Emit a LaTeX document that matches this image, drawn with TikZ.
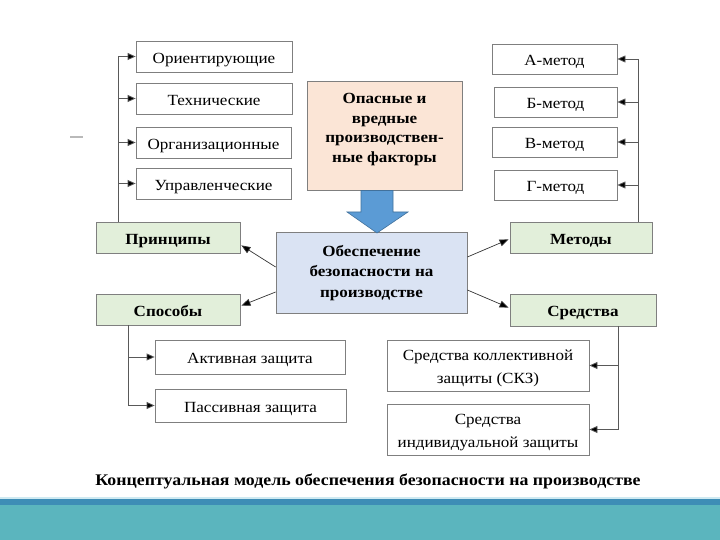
\documentclass[tikz,border=0pt]{standalone}
\usepackage{fontspec}
\setmainfont{Liberation Serif}[FakeStretch=1.1]
\usetikzlibrary{arrows.meta}
\definecolor{boxline}{HTML}{7F7F7F}
\definecolor{greenfill}{HTML}{E2EFDA}
\definecolor{peach}{HTML}{FBE5D6}
\definecolor{lightblue}{HTML}{DAE3F3}
\definecolor{arrowblue}{HTML}{5B9BD5}
\definecolor{arrowedge}{HTML}{41719C}
\definecolor{barlight}{HTML}{CFEAF2}
\definecolor{bardark}{HTML}{3E8DB6}
\definecolor{barteal}{HTML}{5BB5BE}
\tikzset{
  box/.style={draw=boxline, line width=0.8pt, fill=white, inner sep=0pt, align=center,
    font=\fontsize{15.5}{23}\selectfont},
  sbox/.style={box, text height=13.5pt, text depth=0pt},
  gbox/.style={box, fill=greenfill, font=\fontsize{15.5}{21}\selectfont\bfseries,
    text height=13pt, text depth=0pt},
  tree/.style={draw=boxline!70!black, line width=0.8pt},
  arr/.style={tree, -{Triangle[length=8pt,width=7pt,fill=black]}},
  darr/.style={draw=black!80, line width=0.7pt, -{Triangle[length=9pt,width=7pt,fill=black]}}
}
\begin{document}
\begin{tikzpicture}[x=1pt,y=-1pt]
\useasboundingbox (0,0) rectangle (720,540);
% bottom bar
\fill[barlight] (0,496.5) rectangle (720,499);
\fill[bardark] (0,499) rectangle (720,504.5);
\fill[barteal] (0,504.5) rectangle (720,540);
% small dash
\draw[gray!55, line width=1.3pt] (70,137) -- (83,137);

% left column
\node[sbox, minimum width=156pt, minimum height=31pt] (o1) at (214,56.5) {Ориентирующие};
\node[sbox, minimum width=156pt, minimum height=31pt] (o2) at (214,98.5) {Технические};
\node[sbox, minimum width=155pt, minimum height=31pt] (o3) at (213.5,142.5) {Организационные};
\node[sbox, minimum width=155pt, minimum height=31pt] (o4) at (213.5,183.5) {Управленческие};
\node[gbox, minimum width=144pt, minimum height=31pt] (pr) at (168,237.5) {Принципы};
\node[gbox, minimum width=144pt, minimum height=31pt] (sp) at (168,309.5) {Способы};

% centre
\node[box, fill=peach, minimum width=155pt, minimum height=109pt,
  font=\fontsize{15.5}{19.7}\selectfont\bfseries, text depth=15pt] (fac) at (384.5,135.5)
  {Опасные и\\вредные\\производствен-\\ные факторы};
\node[box, fill=lightblue, minimum width=191pt, minimum height=81pt,
  font=\fontsize{15.5}{20.5}\selectfont\bfseries] (main) at (371.5,273)
  {Обеспечение\\безопасности на\\производстве};

% right column
\node[sbox, minimum width=125pt, minimum height=30pt] (m1) at (554.5,59) {А-метод};
\node[sbox, minimum width=123pt, minimum height=30pt] (m2) at (555.5,102) {Б-метод};
\node[sbox, minimum width=125pt, minimum height=30pt] (m3) at (554.5,142) {В-метод};
\node[sbox, minimum width=123pt, minimum height=30pt] (m4) at (555.5,185) {Г-метод};
\node[gbox, minimum width=142pt, minimum height=31pt] (met) at (581,237.5) {Методы};
\node[gbox, minimum width=146pt, minimum height=32pt] (sr) at (583,310) {Средства};

% bottom
\node[sbox, minimum width=190pt, minimum height=34pt] (a1) at (250,357) {Активная защита};
\node[sbox, minimum width=191pt, minimum height=33pt] (a2) at (250.5,405.5) {Пассивная защита};
\node[box, minimum width=202pt, minimum height=51pt, text height=38pt, text depth=3pt] (s1) at (488,365.5) {Средства коллективной\\защиты (СКЗ)};
\node[box, minimum width=202pt, minimum height=51pt, text height=38pt, text depth=3pt] (s2) at (488,429.5) {Средства\\индивидуальной защиты};

% caption
\node[font=\fontsize{16.2}{19}\selectfont\bfseries, inner sep=0pt] (cap) at (368,481)
  {Концептуальная модель обеспечения безопасности на производстве};

% tree coordinates
\coordinate (xl) at (118,0);
\coordinate (xr) at (638,0);
\coordinate (xbl) at (128,0);
\coordinate (xbr) at (618,0);

% left tree
\draw[arr] (pr.north -| xl) |- (o1.west);
\draw[arr] (xl |- o2.west) -- (o2.west);
\draw[arr] (xl |- o3.west) -- (o3.west);
\draw[arr] (xl |- o4.west) -- (o4.west);
% right tree
\draw[arr] (met.north -| xr) |- (m1.east);
\draw[arr] (xr |- m2.east) -- (m2.east);
\draw[arr] (xr |- m3.east) -- (m3.east);
\draw[arr] (xr |- m4.east) -- (m4.east);
% bottom left tree
\draw[arr] (sp.south -| xbl) |- (a2.west);
\draw[arr] (xbl |- a1.west) -- (a1.west);
% bottom right tree
\draw[arr] (sr.south -| xbr) |- (s2.east);
\draw[arr] (xbr |- s1.east) -- (s1.east);

% diagonal arrows from centre
\draw[darr] ([yshift=6pt]main.west) -- ([xshift=1pt,yshift=8pt]pr.south east);
\draw[darr] ([yshift=-19pt]main.west) -- ([xshift=1pt,yshift=-12pt]sp.north east);
\draw[darr] ([yshift=16pt]main.east) -- ([xshift=-1pt,yshift=14pt]met.south west);
\draw[darr] ([yshift=-17pt]main.east) -- ([xshift=-1pt,yshift=-14pt]sr.north west);

% big blue arrow
\draw[fill=arrowblue, draw=arrowedge, line width=0.6pt]
  (361,190.5) -- (393,190.5) -- (393,212) -- (408,212) -- (377,233) -- (347,212) -- (361,212) -- cycle;
\end{tikzpicture}
\end{document}
